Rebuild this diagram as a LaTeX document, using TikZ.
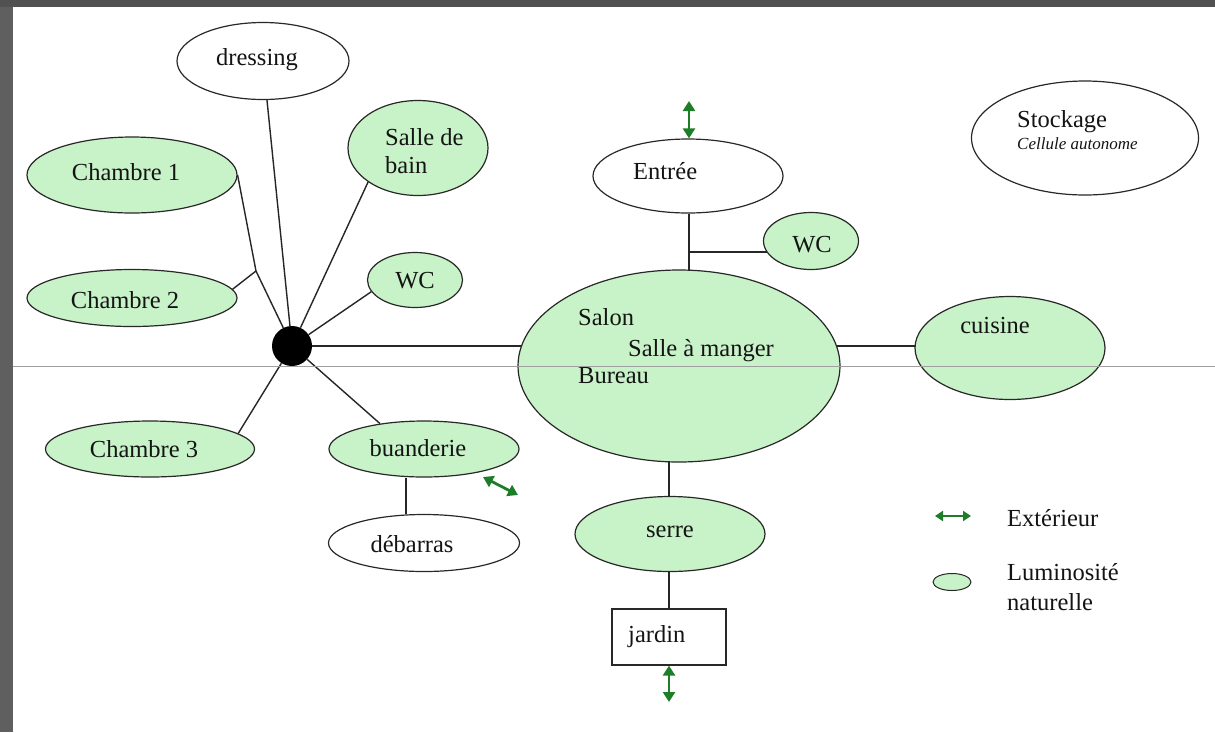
\documentclass[tikz,border=0pt]{standalone}
\usepackage{fontspec}
\setmainfont{Liberation Serif}
\usetikzlibrary{shapes.geometric,arrows.meta,backgrounds}
\definecolor{lum}{RGB}{200,242,200}
\definecolor{extg}{RGB}{30,125,40}
\definecolor{bord}{RGB}{40,40,40}
\definecolor{frame}{RGB}{95,95,95}
\begin{document}
\begin{tikzpicture}[x=1pt,y=-1pt,
  font=\fontsize{24.5}{29}\selectfont,
  room/.style={ellipse, draw=bord, line width=1.2pt, inner sep=0pt, fill=white},
  lit/.style={room, fill=lum},
  lbl/.style={anchor=base, inner sep=0pt, text=black!92},
  lblw/.style={anchor=base west, inner sep=0pt, text=black!92},
  link/.style={draw=black!85, line width=1.4pt},
  thick link/.style={draw=black!85, line width=2pt},
  ext/.style={draw=extg, line width=2.8pt, {Triangle[length=10pt,width=12pt]}-{Triangle[length=10pt,width=12pt]}},
  extsmall/.style={draw=extg, line width=2.4pt, {Triangle[length=8pt,width=10pt]}-{Triangle[length=8pt,width=10pt]}}
]
\useasboundingbox (0,0) rectangle (1215,732);
\begin{scope}[on background layer]
\fill[white] (0,0) rectangle (1215,732);
\fill[frame] (0,0) rectangle (13,732);
\fill[frame!85!black] (0,0) rectangle (1215,7);
\end{scope}

% hub
\node[circle, fill=black, minimum size=40pt, inner sep=0pt] (hub) at (292,346) {};
\coordinate (J) at (256,271);

% rooms
\node[room, minimum width=172pt, minimum height=77pt] (dress) at (263,61) {};
\node[lbl] (dressT) at (257,65) {dressing};
\node[lit, minimum width=210pt, minimum height=76pt] (c1) at (132,175) {};
\node[lbl] (c1T) at (126,180) {Chambre 1};
\node[lit, minimum width=210pt, minimum height=57pt] (c2) at (132,298) {};
\node[lbl] (c2T) at (125,308) {Chambre 2};
\node[lit, minimum width=209pt, minimum height=56pt] (c3) at (150,449) {};
\node[lbl] (c3T) at (144,457) {Chambre 3};
\node[lit, minimum width=140pt, minimum height=95pt] (sdb) at (418,148) {};
\node[lblw] (sdbT1) at (385,145) {Salle de};
\node[lblw] (sdbT2) at (385,173) {bain};
\node[lit, minimum width=95pt, minimum height=55pt] (wcl) at (415,280) {};
\node[lbl] (wclT) at (415,288) {WC};
\node[lit, minimum width=190pt, minimum height=56pt] (bu) at (424,449) {};
\node[lbl] (buT) at (418,456) {buanderie};
\node[room, minimum width=191pt, minimum height=57pt] (deb) at (424,543) {};
\node[lbl] (debT) at (412,552) {débarras};

\node[lit, minimum width=322pt, minimum height=192pt] (salon) at (679,366) {};
\node[lblw] (salonT1) at (578,325) {Salon};
\node[lblw] (salonT2) at (628,356) {Salle à manger};
\node[lblw] (salonT3) at (578,383) {Bureau};

\node[room, minimum width=190pt, minimum height=74pt] (entree) at (688,176) {};
\node[lblw] (entreeT) at (633,179) {Entrée};
\node[lit, minimum width=95pt, minimum height=57pt] (wcr) at (811,241) {};
\node[lbl] (wcrT) at (812,252) {WC};
\node[lit, minimum width=190pt, minimum height=103pt] (cuis) at (1010,348) {};
\node[lbl] (cuisT) at (995,333) {cuisine};
\node[lit, minimum width=190pt, minimum height=75pt] (serre) at (670,534) {};
\node[lbl] (serreT) at (670,537) {serre};
\node[draw=bord, line width=1.2pt, minimum width=114pt, minimum height=56pt, inner sep=0pt] (jardin) at (669,637) {};
\node[lblw] (jardinT) at (628,642) {jardin};

\node[room, minimum width=227pt, minimum height=114pt] (stock) at (1085,138) {};
\node[lblw] (stockT1) at (1017,127) {Stockage};
\node[lblw, font=\fontsize{17}{20}\selectfont\itshape] (stockT2) at (1017,149) {Cellule autonome};

% legend
\coordinate (la1) at (935,516);
\coordinate (la2) at (971,516);
\draw[extsmall] (la1) -- (la2);
\node[lblw] (legExt) at (1007,526) {Extérieur};
\node[lit, minimum width=38pt, minimum height=17pt, line width=1pt] (legEll) at (952,582) {};
\node[lblw] (legL1) at (1007,580) {Luminosité};
\node[lblw] (legL2) at (1007,610) {naturelle};

% connectors
\begin{scope}[on background layer]
\draw[link] (dress) -- (hub);
\draw[link] (c1.east) -- (J);
\draw[link] (c2.5) -- (J);
\draw[link] (J) -- (hub);
\draw[link] (sdb.south west) -- (hub);
\draw[link] (wcl.195) -- (hub);
\draw[link] (c3.10) -- (hub);
\draw[link] (bu.150) -- (hub);
\draw[link] (bu.south -| 406,0) -- (deb.north -| 406,0);
\draw[thick link] (hub) -- (hub -| salon.center);
\draw[thick link] (cuis.center |- 0,346) -- (salon.center |- 0,346);
\coordinate (br) at (689,252);
\draw[link] (entree.south -| br) -- (salon.center -| br);
\draw[link] (br) -- (wcr.center |- br);
\draw[link] (serre.center -| jardin.north) -- (salon.center -| jardin.north);
\draw[link] (serre.center -| jardin.north) -- (jardin.north);
\end{scope}

% exterior arrows
\coordinate (ea) at (689,101);
\draw[ext] (ea) -- (entree.north -| ea);
\coordinate (ja) at (669,702);
\draw[ext] (jardin.south) -- (ja);
\coordinate (ba1) at (483,477);
\coordinate (ba2) at (518,495);
\draw[ext] (ba1) -- (ba2);

% horizontal grey line
\coordinate (gl) at (13,366);
\coordinate (gr) at (1215,366);
\draw[gray!75, line width=1pt] (gl) -- (gr);
\end{tikzpicture}
\end{document}
